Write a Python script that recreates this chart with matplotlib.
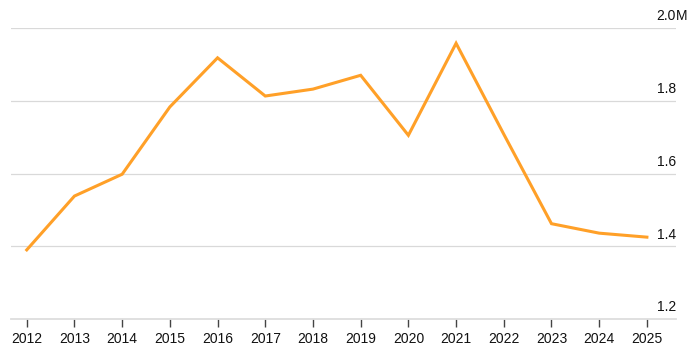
import matplotlib as mpl
mpl.use("Agg")
import matplotlib.pyplot as plt

years = [2012, 2013, 2014, 2015, 2016, 2017, 2018, 2019, 2020, 2021, 2022, 2023, 2024, 2025]
values = [1.390, 1.538, 1.598, 1.783, 1.918, 1.813, 1.832, 1.870, 1.705, 1.958, 1.708, 1.462, 1.436, 1.425]
y_ticks = [1.2, 1.4, 1.6, 1.8, 2.0]
y_labels = ["1.2", "1.4", "1.6", "1.8", "2.0"]

plt.rcParams['font.family'] = ['Liberation Sans', 'DejaVu Sans']

fig = plt.figure(figsize=(6.95, 3.52), dpi=100)
ax = fig.add_axes([11/695, 33/352, 665/695, 291/352])

ax.plot(years, values, color='#FFA028', lw=2.2, solid_joinstyle='miter', zorder=3)

ax.set_xlim(2011.67, 2025.61)
ax.set_ylim(1.2, 2.0)

for v in y_ticks[1:]:
    ax.axhline(v, color='#d9d9d9', lw=0.9, zorder=1)

for v, lab in zip(y_ticks, y_labels):
    ax.annotate(lab, xy=(1.0, v), xycoords=('axes fraction', 'data'),
                xytext=(0, 5.5), textcoords='offset points',
                ha='right', va='baseline', fontsize=10, color='#111111')
ax.annotate("M", xy=(1.0, 2.0), xycoords=('axes fraction', 'data'),
            xytext=(0, 5.5), textcoords='offset points',
            ha='left', va='baseline', fontsize=10, color='#111111')

ax.set_yticks([])
ax.set_xticks(years)
ax.set_xticklabels([str(y) for y in years], fontsize=10, color='#111111')
ax.tick_params(axis='x', length=5.8, width=1, color='#444444', pad=3.4)

for s in ['top', 'left', 'right']:
    ax.spines[s].set_visible(False)
ax.spines['bottom'].set_color('#dddddd')
ax.spines['bottom'].set_linewidth(1.3)

fig.savefig('out.png', dpi=100)
